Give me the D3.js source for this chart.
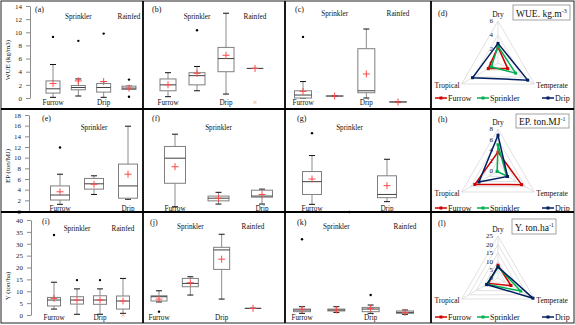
<!DOCTYPE html>
<html><head><meta charset="utf-8">
<script src="https://cdn.jsdelivr.net/npm/d3@7/dist/d3.min.js"></script>
<style>body{margin:0;background:#fff}svg{display:block}svg text{font-family:"Liberation Serif","Times New Roman",serif}</style>
</head><body><svg id="c" width="575" height="325" font-family="Liberation Serif"></svg>
<script>
// ---------- DATA ----------
const methods4 = ["Furrow","Sprinkler","Drip","Rainfed"];
const methods3 = ["Furrow","Sprinkler","Drip"];
// box stats: [lower whisker, Q1, median, Q3, upper whisker, mean]
const wueA = [[0.1,0.75,1.4,2.6,5.1,2.2],[0.3,1.25,1.6,1.9,2.9,2.6],[0.1,0.9,1.6,2.2,2.5,2.5],[1.3,1.3,1.5,1.8,1.8,1.5]];
const wueAOut = [[9.3],[8.7],[9.8],[2.8,0.2]];
const wueB = [[0.2,1.1,2.0,2.9,3.85,2.0],[1.1,2.0,3.4,3.85,4.8,3.75],[0.6,4.0,6.0,7.7,12.9,6.5],[4.5,4.5,4.5,4.5,4.5,4.5]];
const wueBOut = [[],[10.3],[],[]];
const wueBMark = -0.6;
const wueC = [[0,0,0.45,1.1,2.5,1.0],[0.3,0.3,0.3,0.3,0.3,0.3],[0,0.8,1.1,7.5,10.5,3.65],[-0.6,-0.6,-0.6,-0.6,-0.6,-0.6]];
const wueCOut = [[9.3],[],[],[]];
const epE = [[1.25,2.06,3.0,4.7,6.9,3.6],[3.1,4.1,5.1,6.1,6.6,5.0],[2.2,2.4,4.7,8.8,15.9,6.9]];
const epEOut = [[11.9],[],[]];
const epF = [[0.8,5.2,9.9,12.1,14.4,8.3],[1.3,1.9,2.4,2.8,3.5,2.4],[1.3,2.6,2.8,3.9,4.1,3.1]];
const epFOut = [[],[],[]];
const epG = [[1.25,3.1,5.5,7.4,10.4,6.0],null,[1.75,2.5,3.1,6.6,9.7,4.75]];
const epGOut = [[14.6],[-0.2],[]];
const yI = [[2.5,3.8,6.3,7.4,13.8,7.0],[0.3,4.6,6.3,7.7,11,6.3],[0.3,4.5,6.3,8.1,11,6.3],[0.7,2.5,5.9,8.0,15.4,5.9]];
const yIOut = [[33.7],[14.7],[14.7],[]];
const yIMark = 0.0;
const yJ = [[5.5,5.9,7.7,8.1,10.2,6.7],[8.4,11.9,13.3,15.4,16.1,13.6],[6.7,19.2,27.4,28.5,34,23.5],[2.8,2.8,2.8,2.8,2.8,2.8]];
const yJOut = [[1.4],[],[],[]];
const yK = [[0.7,1.4,2.1,2.5,3.5,2.4],[1.1,1.7,2.1,2.5,3.5,2.1],[0.7,1.4,2.5,3.2,4.2,2.8],[0.3,0.7,1.1,1.7,2.1,1.1]];
const yKOut = [[31.9],[],[8.4],[]];

const wueTicks = [0,2,4,6,8,10,12,14];
const epTicks = [0,2,4,6,8,10,12,14,16,18];
const yTicks = [0,5,10,15,20,25,30,35,40];

const radarAxes = ["Dry","Temperate","Tropical"];
const seriesNames = ["Furrow","Sprinkler","Drip"];
const wueFurrowR = [2.3,1.6,1.6];
const wueSprinklerR = [2.4,2.9,1.1];
const wueDripR = [2.8,4.9,4.2];
const epFurrowR = [3.6,5.2,5.1];
const epSprinklerR = [5.0,1.9,0.2];
const epDripR = [6.8,2.1,4.2];
const yFurrowR = [7.6,8.9,6.5];
const ySprinklerR = [6.6,15.6,7.5];
const yDripR = [6.6,24,7.8];
const wueRTicks = [0,2,4,6];
const epRTicks = [0,2,4,6,8];
const yRTicks = [0,5,10,15,20,25];

// ---------- DRAW ----------
const FONT = "Liberation Serif, Times New Roman, serif";
const svg = d3.select("#c");
const seriesColors = ["#d00000","#00b050","#001f60"];

const yRow1 = d3.scaleLinear().domain([0,14]).range([98,6]);
const yRow2 = d3.scaleLinear().domain([0,18]).range([211,115]);
const yRow3 = d3.scaleLinear().domain([0,40]).range([315,220]);

function txt(sel){ return sel.append("text").attr("font-family",FONT); }

function plus(g,x,y){
  g.append("path").attr("d",`M${x-3.5},${y}H${x+3.5}M${x},${y-3.5}V${y+3.5}`)
   .attr("stroke","#ff4a4a").attr("stroke-width",1).attr("fill","none");
}

function boxPanel(cats, stats, outs, r, y, bw, topY, botY, mark){
  const x = d3.scalePoint().domain(cats).range(r);
  const g = svg.append("g");
  cats.forEach((c,i)=>{
    const cx = x(c), s = stats[i], hw = bw/2;
    if(s){
      g.append("line").attr("x1",cx).attr("x2",cx).attr("y1",y(s[0])).attr("y2",y(s[1])).attr("stroke","#8c8c8c");
      g.append("line").attr("x1",cx).attr("x2",cx).attr("y1",y(s[3])).attr("y2",y(s[4])).attr("stroke","#8c8c8c");
      [s[0],s[4]].forEach(v=>g.append("line").attr("x1",cx-3).attr("x2",cx+3).attr("y1",y(v)).attr("y2",y(v)).attr("stroke","#111").attr("stroke-width",1));
      g.append("rect").attr("x",cx-hw).attr("y",y(s[3])).attr("width",bw).attr("height",Math.max(0.01,y(s[1])-y(s[3])))
        .attr("fill","#fff").attr("stroke","#7f7f7f").attr("stroke-width",1);
      g.append("line").attr("x1",cx-hw).attr("x2",cx+hw).attr("y1",y(s[2])).attr("y2",y(s[2])).attr("stroke","#404040").attr("stroke-width",1);
      plus(g,cx,y(s[5]));
    }
    (outs[i]||[]).forEach(v=>g.append("circle").attr("cx",cx).attr("cy",y(v)).attr("r",1.2).attr("fill","#000"));
    txt(g).attr("x",cx).attr("y", i%2 ? topY : botY).attr("text-anchor","middle")
      .attr("font-size",7.2).attr("fill","#111").text(c);
  });
  if(mark!==undefined){
    txt(g).attr("x",x("Rainfed")).attr("y",y(mark)).attr("dy","0.35em").attr("text-anchor","middle")
      .attr("font-size",8).attr("fill","#f79646").text("×");
  }
}

function yAxis(y, ticks, ax, title, ty){
  const g = svg.append("g").attr("transform",`translate(${ax},0)`)
    .call(d3.axisLeft(y).tickValues(ticks).tickSize(4).tickPadding(4).tickSizeOuter(0));
  g.attr("font-family",FONT);
  g.selectAll("path,line").attr("stroke","#8c8c8c");
  g.selectAll("text").attr("font-family",FONT).attr("font-size",7).attr("fill","#222");
  txt(svg).attr("transform",`translate(10,${ty}) rotate(-90)`).attr("text-anchor","middle")
    .attr("font-size",7).attr("fill","#111").text(title);
}

// Row 1
yAxis(yRow1, wueTicks, 30, "WUE (kg/m3)", 60);
boxPanel(methods4, wueA, wueAOut, [53,129], yRow1, 14, 19, 105);
boxPanel(methods4, wueB, wueBOut, [168,255], yRow1, 16, 19, 105, wueBMark);
boxPanel(methods4, wueC, wueCOut, [303,398], yRow1, 17, 16, 105);
// Row 2
yAxis(yRow2, epTicks, 29, "EP (ton/MJ)", 166);
boxPanel(methods3, epE, epEOut, [60,128], yRow2, 19, 130, 211);
boxPanel(methods3, epF, epFOut, [175,262], yRow2, 21, 130, 211);
boxPanel(methods3, epG, epGOut, [312,387], yRow2, 19, 130, 211);
// Row 3
yAxis(yRow3, yTicks, 31, "Y (ton/ha)", 286);
boxPanel(methods4, yI, yIOut, [54,123], yRow3, 13, 231, 320, yIMark);
boxPanel(methods4, yJ, yJOut, [159,253], yRow3, 16, 229, 320);
boxPanel(methods4, yK, yKOut, [302,405], yRow3, 17, 229, 320);

// Radars
function radar(cx, cy, R, ticks, series, title, sup, legY, box){
  const g = svg.append("g").attr("transform",`translate(${cx},${cy})`);
  const max = ticks[ticks.length-1];
  const r = d3.scaleLinear().domain([0,max]).range([0,R]);
  const ang = i => i*2*Math.PI/3;
  const pt = (v,i)=>[Math.sin(ang(i))*r(v), -Math.cos(ang(i))*r(v)];
  const tri = d3.lineRadial().angle((d,i)=>ang(i)).radius(d=>r(d)).curve(d3.curveLinearClosed);
  ticks.filter(t=>t>0).forEach(t=>{
    g.append("path").attr("d", tri([t,t,t])).attr("fill","none").attr("stroke","#d9d9d9").attr("stroke-width",0.8);
  });
  radarAxes.forEach((a,i)=>{
    const p = pt(max,i);
    g.append("line").attr("x1",0).attr("y1",0).attr("x2",p[0]).attr("y2",p[1]).attr("stroke","#d9d9d9").attr("stroke-width",0.8);
  });
  ticks.forEach(t=>txt(g).attr("x",-5).attr("y",-r(t)).attr("dy","0.35em").attr("text-anchor","end")
    .attr("font-size",7).attr("fill","#222").text(t));
  const pd = pt(max,0), pte = pt(max,1), ptr = pt(max,2);
  txt(g).attr("x",pd[0]).attr("y",pd[1]-4).attr("text-anchor","middle").attr("font-size",7.5).attr("fill","#111").text(radarAxes[0]);
  txt(g).attr("x",pte[0]+2).attr("y",pte[1]+4).attr("text-anchor","start").attr("font-size",7.5).attr("fill","#111").text(radarAxes[1]);
  txt(g).attr("x",ptr[0]-2).attr("y",ptr[1]+4).attr("text-anchor","end").attr("font-size",7.5).attr("fill","#111").text(radarAxes[2]);
  series.forEach((s,k)=>{
    g.append("path").attr("d", tri(s)).attr("fill","none").attr("stroke",seriesColors[k]).attr("stroke-width",1.5);
    s.forEach((v,i)=>{const p=pt(v,i); g.append("rect").attr("x",p[0]-1.5).attr("y",p[1]-1.5).attr("width",3).attr("height",3).attr("fill",seriesColors[k]);});
  });
  const lx = [435,477,542];
  seriesNames.forEach((n,k)=>{
    svg.append("line").attr("x1",lx[k]).attr("x2",lx[k]+12).attr("y1",legY).attr("y2",legY).attr("stroke",seriesColors[k]).attr("stroke-width",1.5);
    svg.append("rect").attr("x",lx[k]+4.5).attr("y",legY-1.5).attr("width",3).attr("height",3).attr("fill",seriesColors[k]);
    txt(svg).attr("x",lx[k]+13).attr("y",legY+3).attr("font-size",8).attr("fill","#111").text(n);
  });
  svg.append("rect").attr("x",box[0]).attr("y",box[1]).attr("width",box[2]).attr("height",box[3])
    .attr("fill","#fff").attr("stroke","#8c8c8c").attr("stroke-width",0.8);
  const t = txt(svg).attr("x",box[0]+3).attr("y",box[1]+box[3]-3.5).attr("font-size",9.5).attr("fill","#111");
  t.append("tspan").text(title);
  t.append("tspan").attr("dy",-3.5).attr("font-size",6).text(sup);
}
radar(498, 63, 42, wueRTicks, [wueFurrowR,wueSprinklerR,wueDripR], "WUE. kg.m", "-3", 98, [513,5,57,15]);
radar(498, 171, 42, epRTicks, [epFurrowR,epSprinklerR,epDripR], "EP. ton.MJ", "-1", 208, [516,114,53,14]);
radar(498, 278, 42, yRTicks, [yFurrowR,ySprinklerR,yDripR], "Y. ton.ha", "-1", 317, [512,219,44,15]);

// panel letters
const letters = ["(a)","(b)","(c)","(d)","(e)","(f)","(g)","(h)","(i)","(j)","(k)","(l)"];
const letterPos = [[35,12],[152,12],[295,12],[438,16],[42,121],[152,121],[297,121],[438,122],[42,224],[150,225],[297,225],[438,226]];
letters.forEach((l,i)=>txt(svg).attr("x",letterPos[i][0]).attr("y",letterPos[i][1]).attr("font-size",8).attr("fill","#111").text(l));

// frame & separators
svg.append("rect").attr("x",1).attr("y",1).attr("width",573).attr("height",322).attr("fill","none").attr("stroke","#222").attr("stroke-width",1);
[143,285,431].forEach(x=>svg.append("line").attr("x1",x).attr("x2",x).attr("y1",1).attr("y2",323).attr("stroke","#000").attr("stroke-width",1.8));
[109,212].forEach(y=>svg.append("line").attr("x1",1).attr("x2",574).attr("y1",y).attr("y2",y).attr("stroke","#000").attr("stroke-width",1.8));
</script></body></html>
